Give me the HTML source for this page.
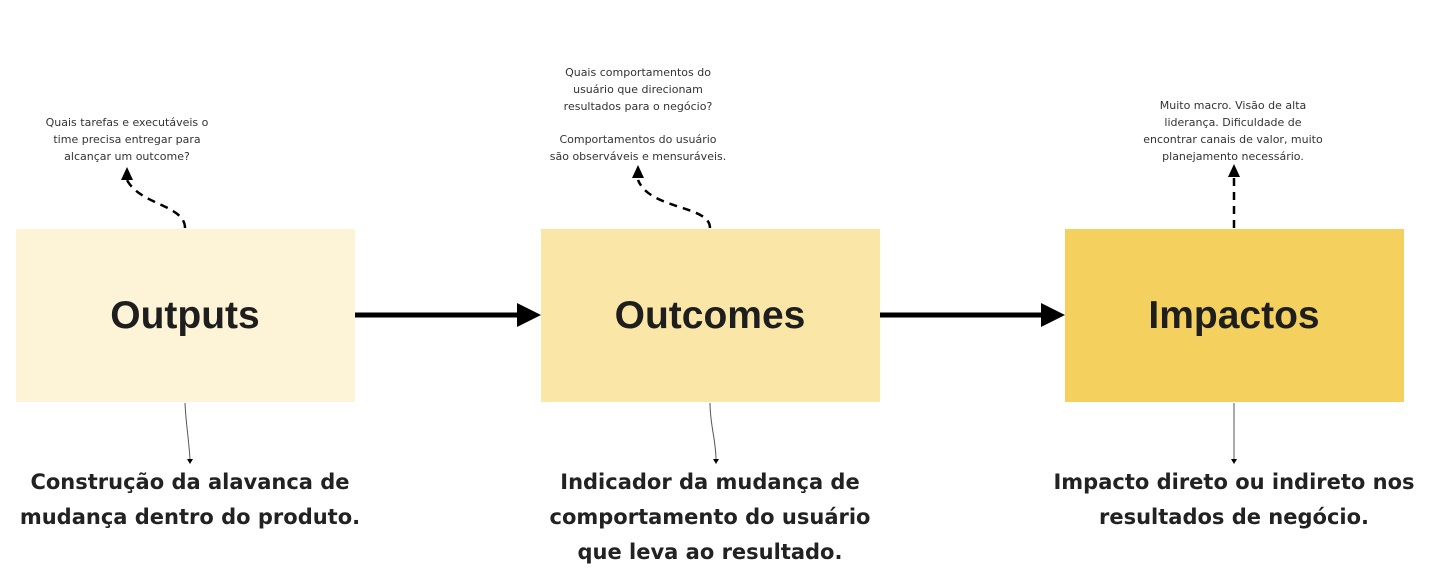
<!DOCTYPE html>
<html><head><meta charset="utf-8"><style>
html,body{margin:0;padding:0;background:#fff;width:1456px;height:585px;overflow:hidden}
svg{display:block}
.s{font-family:"DejaVu Sans","Liberation Sans",sans-serif;font-size:11px;fill:#333;text-anchor:middle}
.t{font-family:"Liberation Sans",sans-serif;font-weight:bold;font-size:39px;fill:#1e1e1e;text-anchor:middle}
.b{font-family:"DejaVu Sans","Liberation Sans",sans-serif;font-weight:bold;font-size:21px;fill:#222;text-anchor:middle}
</style></head><body>
<svg width="1456" height="585" viewBox="0 0 1456 585">
<rect x="16" y="229" width="339" height="173" fill="#fdf3d6"/>
<rect x="541" y="229" width="339" height="173" fill="#fae7a8"/>
<rect x="1065" y="229" width="339" height="173" fill="#f4d05e"/>
<text class="t" x="185" y="328">Outputs</text>
<text class="t" x="710" y="328">Outcomes</text>
<text class="t" x="1234" y="328">Impactos</text>
<line x1="355" y1="315" x2="518" y2="315" stroke="#000" stroke-width="5"/>
<polygon points="517,303 541,315 517,327" fill="#000"/>
<line x1="880" y1="315" x2="1042" y2="315" stroke="#000" stroke-width="5"/>
<polygon points="1041,303 1065,315 1041,327" fill="#000"/>
<path d="M185,228 C185,205 140,205 127,180" fill="none" stroke="#000" stroke-width="2.5" stroke-dasharray="8,6"/>
<polygon points="121,180 127,167 133,180" fill="#000"/>
<path d="M710,228 C710,205 650,210 638,180" fill="none" stroke="#000" stroke-width="2.5" stroke-dasharray="8,6"/>
<polygon points="632,178 638,165 644,178" fill="#000"/>
<line x1="1234" y1="228" x2="1234" y2="178" stroke="#000" stroke-width="2.5" stroke-dasharray="8,6"/>
<polygon points="1228,177 1234,164 1240,177" fill="#000"/>
<text class="s" x="127" y="126">Quais tarefas e executáveis o</text>
<text class="s" x="127" y="143">time precisa entregar para</text>
<text class="s" x="127" y="160">alcançar um outcome?</text>
<text class="s" x="638" y="76">Quais comportamentos do</text>
<text class="s" x="638" y="93">usuário que direcionam</text>
<text class="s" x="638" y="110">resultados para o negócio?</text>
<text class="s" x="638" y="143">Comportamentos do usuário</text>
<text class="s" x="638" y="160">são observáveis e mensuráveis.</text>
<text class="s" x="1233" y="109">Muito macro. Visão de alta</text>
<text class="s" x="1233" y="126">liderança. Dificuldade de</text>
<text class="s" x="1233" y="143">encontrar canais de valor, muito</text>
<text class="s" x="1233" y="160">planejamento necessário.</text>
<path d="M185,403 C186,425 189,440 190,460" fill="none" stroke="#555" stroke-width="1"/>
<polygon points="187,459 190,464 193,459" fill="#000"/>
<path d="M710,403 C710,425 716,440 716,460" fill="none" stroke="#555" stroke-width="1"/>
<polygon points="713,459 716,464 719,459" fill="#000"/>
<line x1="1234" y1="403" x2="1234" y2="460" stroke="#555" stroke-width="1"/>
<polygon points="1231,459 1234,464 1237,459" fill="#000"/>
<text class="b" x="190" y="489">Construção da alavanca de</text>
<text class="b" x="190" y="524">mudança dentro do produto.</text>
<text class="b" x="710" y="489">Indicador da mudança de</text>
<text class="b" x="710" y="524">comportamento do usuário</text>
<text class="b" x="710" y="559">que leva ao resultado.</text>
<text class="b" x="1234" y="489">Impacto direto ou indireto nos</text>
<text class="b" x="1234" y="524">resultados de negócio.</text>
</svg>
</body></html>
